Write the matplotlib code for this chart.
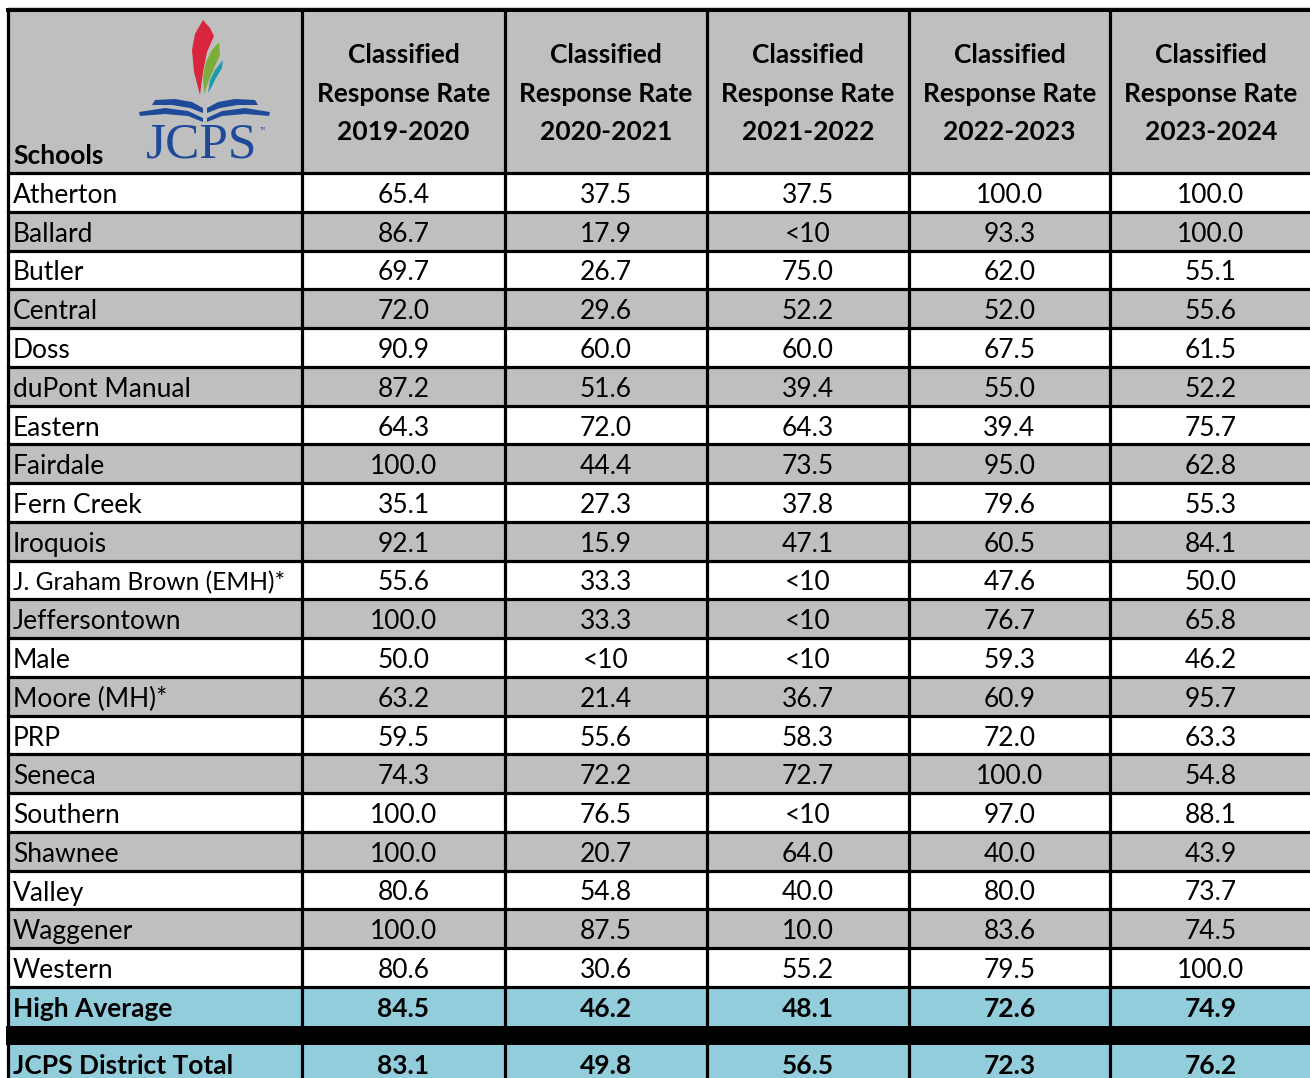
import matplotlib.pyplot as plt
from matplotlib.patches import Rectangle, Polygon

# ---- data ----
schools = ["Atherton", "Ballard", "Butler", "Central", "Doss", "duPont Manual",
           "Eastern", "Fairdale", "Fern Creek", "Iroquois", "J. Graham Brown (EMH)*",
           "Jeffersontown", "Male", "Moore (MH)*", "PRP", "Seneca", "Southern",
           "Shawnee", "Valley", "Waggener", "Western"]
years = ["2019-2020", "2020-2021", "2021-2022", "2022-2023", "2023-2024"]

# None = suppressed (<10)
r2019 = [65.4, 86.7, 69.7, 72.0, 90.9, 87.2, 64.3, 100.0, 35.1, 92.1, 55.6,
         100.0, 50.0, 63.2, 59.5, 74.3, 100.0, 100.0, 80.6, 100.0, 80.6]
r2020 = [37.5, 17.9, 26.7, 29.6, 60.0, 51.6, 72.0, 44.4, 27.3, 15.9, 33.3,
         33.3, None, 21.4, 55.6, 72.2, 76.5, 20.7, 54.8, 87.5, 30.6]
r2021 = [37.5, None, 75.0, 52.2, 60.0, 39.4, 64.3, 73.5, 37.8, 47.1, None,
         None, None, 36.7, 58.3, 72.7, None, 64.0, 40.0, 10.0, 55.2]
r2022 = [100.0, 93.3, 62.0, 52.0, 67.5, 55.0, 39.4, 95.0, 79.6, 60.5, 47.6,
         76.7, 59.3, 60.9, 72.0, 100.0, 97.0, 40.0, 80.0, 83.6, 79.5]
r2023 = [100.0, 100.0, 55.1, 55.6, 61.5, 52.2, 75.7, 62.8, 55.3, 84.1, 50.0,
         65.8, 46.2, 95.7, 63.3, 54.8, 88.1, 43.9, 73.7, 74.5, 100.0]
high_avg = [84.5, 46.2, 48.1, 72.6, 74.9]
district = [83.1, 49.8, 56.5, 72.3, 76.2]

cols = [r2019, r2020, r2021, r2022, r2023]

# ---- layout (pixels) ----
W, H = 1310, 1078
FONT = "Lato"
GRAY = "#bfbfbf"
BLUE = "#92cddc"
LOGO_BLUE = "#1f4a9a"
col_edges = [8, 302, 505, 707, 909, 1110, 1312]
head_top, head_bot = 10, 173
row_h = 38.75
band_h = 19
fs = 19
lw = 2.3


def fmt(v):
    return "<10" if v is None else f"{v:.1f}"


fig = plt.figure(figsize=(W / 100, H / 100), dpi=100)
ax = fig.add_axes([0, 0, 1, 1])
ax.set_xlim(0, W)
ax.set_ylim(H, 0)
ax.axis("off")

x0, x1 = col_edges[0], col_edges[-1] + 10

# header
ax.add_patch(Rectangle((x0, head_top), x1 - x0, head_bot - head_top, color=GRAY, lw=0))
for i, yr in enumerate(years):
    cx = (col_edges[i + 1] + col_edges[i + 2]) / 2
    for j, line in enumerate(["Classified", "Response Rate", yr]):
        ax.text(cx, 63 + j * 38.5, line, ha="center", va="baseline",
                fontsize=fs, fontweight="bold", family=FONT)
ax.text(13, 164, "Schools", ha="left", va="baseline", fontsize=fs,
        fontweight="bold", family=FONT)

# logo: flames
ax.add_patch(Polygon([(200, 95), (194, 72), (192, 50), (195, 34), (203, 20),
                      (210, 28), (214, 36), (207, 52), (203, 72)], color="#d7263d", lw=0))
ax.add_patch(Polygon([(204, 94), (203, 76), (206, 62), (212, 50), (219, 42),
                      (220, 55), (215, 66), (209, 80)], color="#7cac3a", lw=0))
ax.add_patch(Polygon([(208, 93), (210, 80), (215, 70), (223, 60),
                      (222, 68), (216, 78), (211, 88)], color="#1b9aaa", lw=0))
# logo: open book
ax.add_patch(Polygon([(155, 100), (175, 99), (192, 102), (203, 108), (203, 113),
                      (190, 108), (172, 105), (152, 105)], color=LOGO_BLUE, lw=0))
ax.add_patch(Polygon([(255, 100), (235, 99), (218, 102), (207, 108), (207, 113),
                      (220, 108), (238, 105), (258, 105)], color=LOGO_BLUE, lw=0))
ax.add_patch(Polygon([(139, 112), (165, 108), (188, 111), (203, 118), (203, 122),
                      (188, 116), (165, 114), (140, 116)], color=LOGO_BLUE, lw=0))
ax.add_patch(Polygon([(270, 112), (245, 108), (222, 111), (207, 118), (207, 122),
                      (222, 116), (245, 114), (269, 116)], color=LOGO_BLUE, lw=0))
ax.text(202, 157, "JCPS", ha="center", va="baseline", fontsize=37,
        family="Liberation Serif", color=LOGO_BLUE)
ax.text(259, 130, "TM", ha="left", va="baseline", fontsize=3,
        family="DejaVu Sans", color=LOGO_BLUE)

# school rows
for r, name in enumerate(schools):
    top = head_bot + r * row_h
    if r % 2 == 1:
        ax.add_patch(Rectangle((x0, top), x1 - x0, row_h, color=GRAY, lw=0))
    base = top + 30
    ax.text(13, base, name, ha="left", va="baseline",
            fontsize=fs - 1.3 if len(name) > 16 else fs, family=FONT)
    for c, vals in enumerate(cols):
        cx = (col_edges[c + 1] + col_edges[c + 2]) / 2
        ax.text(cx, base, fmt(vals[r]), ha="center", va="baseline", fontsize=fs, family=FONT)

# summary rows
avg_top = head_bot + len(schools) * row_h
band_top = avg_top + row_h
dist_top = band_top + band_h
for top, label, vals in [(avg_top, "High Average", high_avg),
                         (dist_top, "JCPS District Total", district)]:
    ax.add_patch(Rectangle((x0, top), x1 - x0, row_h, color=BLUE, lw=0))
    base = top + 30
    ax.text(13, base, label, ha="left", va="baseline", fontsize=fs,
            fontweight="bold", family=FONT)
    for c, v in enumerate(vals):
        cx = (col_edges[c + 1] + col_edges[c + 2]) / 2
        ax.text(cx, base, fmt(v), ha="center", va="baseline", fontsize=fs,
                fontweight="bold", family=FONT)
ax.add_patch(Rectangle((x0 - 2, band_top), x1, band_h, color="black", lw=0))

# grid lines
ax.plot([x0, x1], [head_top, head_top], color="black", lw=lw + 0.6)
ax.plot([x0, x1], [7, 7], color="#cfcfcf", lw=0.8)
for r in range(len(schools) + 1):
    y = head_bot + r * row_h
    ax.plot([x0, x1], [y, y], color="black", lw=lw)
for x in col_edges:
    ax.plot([x, x], [head_top, band_top], color="black", lw=lw)
    ax.plot([x, x], [dist_top, H + 5], color="black", lw=lw)

fig.savefig("out.png", dpi=100)
